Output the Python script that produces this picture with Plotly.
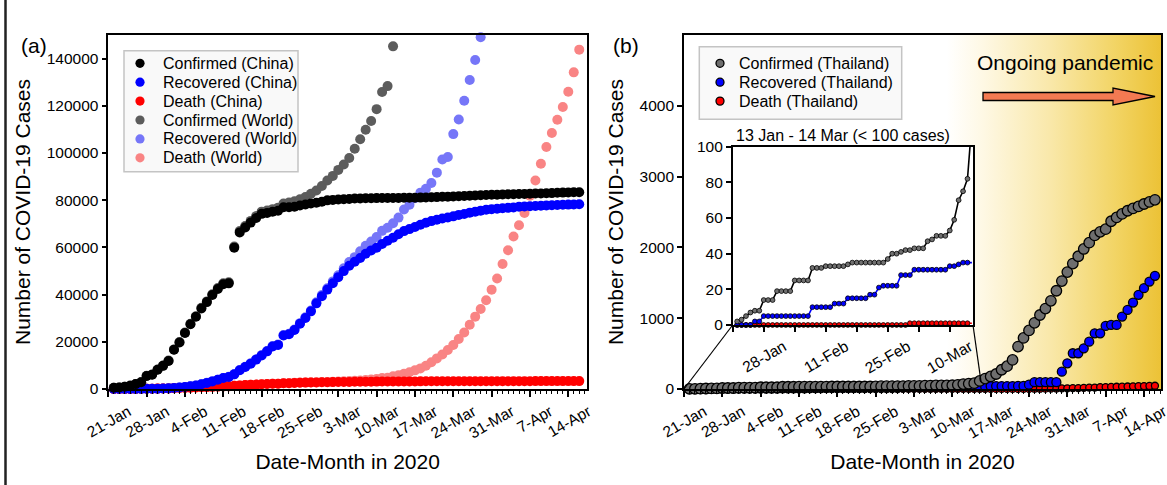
import plotly.graph_objects as go
import pandas as pd

W, H = 1167, 485
FONT = "Liberation Sans, Arial, sans-serif"

# ---------------- data ----------------
dates = [d.strftime("%Y-%m-%d") for d in pd.date_range("2020-01-22", "2020-04-16")]

china_confirmed = [
    548, 643, 920, 1406, 2075, 2877, 5509, 6087, 8141, 9802,
    11891, 16630, 19716, 23707, 27440, 30587, 34110, 36814, 39829, 42354,
    44386, 44759, 59895, 66358, 68413, 70513, 72434, 74211, 74619, 75077,
    75550, 77001, 77022, 77241, 77754, 78166, 78600, 78928, 79356,
    79932, 80136, 80261, 80386, 80537, 80690, 80770, 80823, 80860, 80887,
    80921, 80932, 80945, 80977, 81003, 81033, 81058, 81102, 81156, 81250,
    81305, 81435, 81498, 81591, 81661, 81782, 81897, 81999, 82122, 82198, 82279,
    82361, 82432, 82511, 82543, 82602, 82665, 82718, 82809, 82883, 82941,
    83014, 83134, 83213, 83306, 83356, 83403]
china_recovered = [
    28, 30, 36, 39, 49, 58, 101, 120, 135, 214,
    275, 463, 614, 843, 1115, 1476, 1998, 2595, 3218, 3916,
    4635, 5079, 6213, 7973, 9294, 10748, 12455, 14199, 15952, 18002,
    18693, 22687, 23170, 24990, 27650, 30053, 32898, 36291, 39279,
    42118, 44810, 47404, 49955, 52240, 53888, 55478, 57320, 58735, 59882,
    61475, 62793, 64111, 65541, 66911, 67749, 68679, 69601, 70420, 71150,
    71740, 72244, 72703, 73159, 73773, 74181, 74720, 75100, 75582, 75923, 76206,
    76405, 76565, 76760, 76946, 77207, 77310, 77410, 77567, 77679, 77791,
    77877, 77956, 78039, 78129, 78200, 78311]
china_death = [
    17, 18, 26, 42, 56, 82, 131, 133, 171, 213,
    259, 361, 425, 490, 562, 632, 717, 804, 904, 1011,
    1112, 1117, 1369, 1521, 1663, 1766, 1864, 2003, 2116, 2238,
    2238, 2443, 2445, 2595, 2665, 2717, 2746, 2790, 2837,
    2872, 2914, 2947, 2983, 3015, 3044, 3072, 3100, 3123, 3139,
    3161, 3172, 3180, 3193, 3203, 3217, 3230, 3241, 3249, 3253,
    3259, 3274, 3274, 3281, 3285, 3291, 3296, 3299, 3304, 3308, 3309,
    3316, 3322, 3326, 3330, 3333, 3335, 3335, 3337, 3339, 3340,
    3343, 3343, 3345, 3345, 3346, 3346]
world_confirmed = [
    555, 654, 941, 1434, 2118, 2927, 5578, 6166, 8234, 9927,
    12038, 16787, 19887, 23898, 27643, 30802, 34395, 37129, 40159, 42768,
    44810, 45228, 60381, 66908, 69051, 71235, 73269, 75153, 75652, 76213,
    76843, 78602, 78982, 79546, 80399, 81376, 82723, 84116, 86000,
    88371, 90306, 92840, 95120, 97882, 101800, 105836, 109835, 113582, 118582,
    125865, 128343, 145193]
world_recovered = [
    28, 30, 36, 39, 52, 61, 107, 126, 143, 222,
    284, 472, 623, 852, 1124, 1487, 2011, 2616, 3244, 3946,
    4683, 5150, 6295, 8058, 9395, 10865, 12583, 14352, 16121, 18177,
    18890, 22886, 23394, 25227, 27905, 30384, 33277, 36711, 39782,
    42716, 45602, 48228, 51170, 53796, 55865, 58358, 60694, 62494, 64404,
    67003, 68324, 70251, 72624, 76034, 78088, 80840, 83207, 84854, 87256,
    91676, 97243, 98334, 108000, 114218, 122150, 130915, 139415, 149082]
world_death = [
    17, 18, 26, 42, 56, 82, 131, 133, 171, 213,
    259, 362, 426, 492, 564, 634, 719, 806, 906, 1013,
    1113, 1118, 1371, 1523, 1666, 1770, 1868, 2007, 2122, 2247,
    2251, 2458, 2469, 2629, 2708, 2770, 2814, 2872, 2941,
    2996, 3085, 3160, 3254, 3348, 3460, 3558, 3802, 3988, 4262,
    4615, 4720, 5404, 5819, 6440, 7126, 7905, 8733, 9867, 11299,
    12973, 14651, 16505, 18625, 21181, 23970, 27198, 30652, 33925, 37582, 42107,
    46809, 52983, 58787, 64606, 69374, 74565, 81865, 88338, 95455, 102525,
    108503, 114091, 119481, 125983, 134176, 143800]

thai_confirmed = [
    2, 3, 5, 7, 8, 8, 14, 14, 14, 19,
    19, 19, 19, 25, 25, 25, 25, 32, 32, 32,
    33, 33, 33, 33, 33, 34, 35, 35, 35, 35,
    35, 35, 35, 35, 37, 40, 40, 41, 42,
    42, 43, 43, 43, 47, 48, 50, 50, 50, 53,
    59, 70, 75, 82, 114, 147, 177, 212, 272, 322,
    411, 599, 721, 827, 934, 1045, 1136, 1245, 1388, 1524, 1651,
    1771, 1875, 1978, 2067, 2169, 2220, 2258, 2369, 2423, 2473,
    2518, 2551, 2579, 2613, 2643, 2672]
thai_recovered = [
    0, 0, 0, 0, 2, 2, 5, 5, 5, 5,
    5, 5, 5, 5, 5, 5, 5, 10, 10, 10,
    10, 10, 12, 12, 12, 15, 15, 15, 15, 15,
    17, 17, 21, 22, 22, 22, 22, 28, 28,
    28, 31, 31, 31, 31, 31, 31, 31, 31, 33,
    33, 34, 35, 35, 35, 35, 41, 42, 42, 42,
    42, 44, 44, 61, 97, 97, 97, 97, 97, 245, 363,
    505, 505, 575, 669, 787, 787, 891, 905, 905, 1023,
    1117, 1221, 1330, 1424, 1518, 1598]
thai_death = [
    0, 0, 0, 0, 0, 0, 0, 0, 0, 0,
    0, 0, 0, 0, 0, 0, 0, 0, 0, 0,
    0, 0, 0, 0, 0, 0, 0, 0, 0, 0,
    0, 0, 0, 0, 0, 0, 0, 0, 0,
    1, 1, 1, 1, 1, 1, 1, 1, 1, 1,
    1, 1, 1, 1, 1, 1, 1, 1, 1, 1,
    1, 1, 1, 1, 4, 4, 5, 6, 7, 9, 10,
    12, 12, 15, 19, 20, 26, 27, 30, 32, 33,
    35, 38, 40, 41, 43, 46]

tick_dates = ["2020-01-21", "2020-01-28", "2020-02-04", "2020-02-11", "2020-02-18",
              "2020-02-25", "2020-03-03", "2020-03-10", "2020-03-17", "2020-03-24",
              "2020-03-31", "2020-04-07", "2020-04-14"]
tick_labels = ["21-Jan", "28-Jan", "4-Feb", "11-Feb", "18-Feb", "25-Feb", "3-Mar",
               "10-Mar", "17-Mar", "24-Mar", "31-Mar", "7-Apr", "14-Apr"]
inset_tick_dates = ["2020-01-28", "2020-02-11", "2020-02-25", "2020-03-10"]
inset_tick_labels = ["28-Jan", "11-Feb", "25-Feb", "10-Mar"]
ya_ticks = [0, 20000, 40000, 60000, 80000, 100000, 120000, 140000]
yb_ticks = [0, 1000, 2000, 3000, 4000]
yi_ticks = [0, 20, 40, 60, 80, 100]

# ---------------- geometry (pixels) ----------------
A_L, A_R = 108.3, 587.0
B_L, B_R = 684.0, 1161.0
TOP, BOT = 35.0, 389.0
I_L, I_R, I_T, I_B = 732.7, 973.0, 146.7, 325.0
PX_PER_DAY = 5.476
PX_PER_DAY_INSET = 4.43

X0 = pd.Timestamp("2020-01-21")
A_END = X0 + pd.Timedelta(days=(A_R - A_L) / PX_PER_DAY)
B_END = X0 + pd.Timedelta(days=(B_R - B_L) / PX_PER_DAY)
I_END = X0 + pd.Timedelta(days=(I_R - I_L) / PX_PER_DAY_INSET)
GRAD_START = pd.Timestamp("2020-03-09")


def px_x(p):
    return p / W


def px_y(p):
    return 1 - p / H


def date_to_paper(d, dom, rng):
    f = (pd.Timestamp(d) - rng[0]) / (rng[1] - rng[0])
    return dom[0] + f * (dom[1] - dom[0])


xa_dom = [px_x(A_L), px_x(A_R)]
xb_dom = [px_x(B_L), px_x(B_R)]
y_dom = [px_y(BOT), px_y(TOP)]
xi_dom = [px_x(I_L), px_x(I_R)]
yi_dom = [px_y(I_B), px_y(I_T)]

fig = go.Figure()

# ---------- panel (a) ----------
n_wc, n_wr = len(world_confirmed), len(world_recovered)
panel_a = [  # drawn back to front
    (dates[:n_wc], world_confirmed, "#5c5c5c", "Confirmed (World)"),
    (dates[:n_wr], world_recovered, "#7676f8", "Recovered (World)"),
    (dates, world_death, "#f98484", "Death (World)"),
    (dates, china_death, "#ff0000", "Death (China)"),
    (dates, china_recovered, "#0000ff", "Recovered (China)"),
    (dates, china_confirmed, "#000000", "Confirmed (China)"),
]
for xs, ys, col, name in panel_a:
    fig.add_trace(go.Scatter(
        x=xs, y=ys, mode="markers", name=name, showlegend=False,
        marker=dict(size=10, color=col, line=dict(width=0)),
        cliponaxis=False, xaxis="x", yaxis="y", hoverinfo="skip"))
legend_a_order = ["Confirmed (China)", "Recovered (China)", "Death (China)",
                  "Confirmed (World)", "Recovered (World)", "Death (World)"]
legend_a = [(n, c, None) for n in legend_a_order for (_, _, c, nn) in panel_a if nn == n]

# ---------- panel (b) background gradient ----------
fig.add_trace(go.Scatter(
    x=[GRAD_START, B_END, B_END, GRAD_START, GRAD_START],
    y=[0, 0, 5000, 5000, 0], mode="none", fill="toself",
    fillgradient=dict(type="horizontal", colorscale=[
        [0.0, "#FFFFFF"], [0.17, "#FEF8E4"], [0.48, "#F9E8AA"],
        [0.79, "#F2D464"], [1.0, "#ECC236"]]),
    showlegend=False, hoverinfo="skip", xaxis="x2", yaxis="y2"))

panel_b = [  # drawn back to front
    (thai_death, "#ff0000", "Death (Thailand)", 7),
    (thai_recovered, "#0000ff", "Recovered (Thailand)", 9),
    (thai_confirmed, "#6e6e6e", "Confirmed (Thailand)", 10.5),
]
for ys, col, name, sz in panel_b:
    fig.add_trace(go.Scatter(
        x=dates, y=ys, mode="markers", name=name, showlegend=False,
        marker=dict(size=sz, color=col, line=dict(width=1.3, color="#000000")),
        cliponaxis=False, xaxis="x2", yaxis="y2", hoverinfo="skip"))
legend_b = [(name, col, "#000000") for (_, col, name, _) in panel_b[::-1]]

# ---------- inset ----------
n_line = dates.index("2020-03-15") + 1
n_mark = dates.index("2020-03-14") + 1
inset = [
    (thai_death, "#ff0000", "#ff0000"),
    (thai_recovered, "#0000ff", "#0000ff"),
    (thai_confirmed, "#707070", "#000000"),
]
for ys, mcol, lcol in inset:
    fig.add_trace(go.Scatter(
        x=dates[:n_line], y=ys[:n_line], mode="lines", line=dict(color=lcol, width=1.6),
        showlegend=False, xaxis="x3", yaxis="y3", hoverinfo="skip"))
    fig.add_trace(go.Scatter(
        x=dates[:n_mark], y=ys[:n_mark], mode="markers",
        marker=dict(size=4.8, color=mcol, line=dict(width=0.8, color="#000000")),
        cliponaxis=False, showlegend=False, xaxis="x3", yaxis="y3", hoverinfo="skip"))

tickfont = dict(family=FONT, size=15.5, color="#000000")
titlefont = dict(family=FONT, size=21, color="#000000")


def xaxis_common(dom, rng, anchor):
    return dict(
        domain=dom, range=rng, type="date", anchor=anchor,
        tickmode="array", tickvals=tick_dates, ticktext=tick_labels,
        tickangle=-30, ticklabelshift=20, ticklabeloverflow="allow", tickfont=tickfont,
        ticks="outside", ticklen=6, tickwidth=1.5, tickcolor="#000000",
        minor=dict(ticks="outside", dtick=86400000, tick0="2020-01-21",
                   ticklen=3, tickwidth=1, tickcolor="#000000"),
        showline=True, linecolor="#000000", linewidth=1.6, mirror=True,
        showgrid=False, zeroline=False,
        title=dict(text="Date-Month in 2020", font=titlefont, standoff=14))


def yaxis_common(dom, rng, ticks, anchor):
    return dict(
        domain=dom, range=rng, anchor=anchor, tickmode="array", tickvals=ticks,
        tickformat="d", tickfont=tickfont, ticks="outside", ticklen=5, tickwidth=1.5,
        tickcolor="#000000", showline=True, linecolor="#000000", linewidth=1.6,
        mirror=True, showgrid=False, zeroline=False,
        title=dict(text="Number of COVID-19 Cases", font=titlefont, standoff=10))


layout = dict(
    width=W, height=H, margin=dict(l=0, r=0, t=0, b=0),
    paper_bgcolor="#ffffff", plot_bgcolor="#ffffff", template="none",
    font=dict(family=FONT, color="#000000"), showlegend=False,
    xaxis=xaxis_common(xa_dom, [X0, A_END], "y"),
    yaxis=yaxis_common(y_dom, [0, 150000], ya_ticks, "x"),
    xaxis2=xaxis_common(xb_dom, [X0, B_END], "y2"),
    yaxis2=yaxis_common(y_dom, [0, 5000], yb_ticks, "x2"),
    xaxis3=dict(
        domain=xi_dom, range=[X0, I_END], type="date", anchor="y3",
        tickmode="array", tickvals=inset_tick_dates, ticktext=inset_tick_labels,
        tickangle=-30, ticklabelshift=20, tickfont=tickfont,
        ticks="outside", ticklen=5, tickwidth=1.5, tickcolor="#000000",
        minor=dict(ticks="outside", dtick=7 * 86400000, tick0="2020-01-21",
                   ticklen=5, tickwidth=1.5, tickcolor="#000000"),
        showline=True, linecolor="#000000", linewidth=1.6, mirror=True,
        showgrid=False, zeroline=False),
    yaxis3=dict(
        domain=yi_dom, range=[0, 100], anchor="x3", tickmode="array", tickvals=yi_ticks,
        tickfont=tickfont, ticks="outside", ticklen=5, tickwidth=1.5,
        tickcolor="#000000", showline=True, linecolor="#000000", linewidth=1.6,
        mirror=True, showgrid=False, zeroline=False),
)
fig.update_layout(**layout)


# ---------- hand-drawn legend boxes (compact row spacing as in the original) ----------
def draw_legend(entries, box, first_row, row_gap, mark_x, mark_r, text_x, size):
    x0, y0, x1, y1 = box
    fig.add_shape(type="rect", xref="paper", yref="paper",
                  x0=px_x(x0), x1=px_x(x1), y0=px_y(y1), y1=px_y(y0),
                  fillcolor="rgba(248,248,248,0.85)", line=dict(color="#c4c4c4", width=1.5),
                  layer="above")
    for i, (name, col, edge) in enumerate(entries):
        cy = first_row + i * row_gap
        fig.add_shape(type="circle", xref="paper", yref="paper",
                      x0=px_x(mark_x - mark_r), x1=px_x(mark_x + mark_r),
                      y0=px_y(cy + mark_r), y1=px_y(cy - mark_r), fillcolor=col,
                      line=dict(color=edge if edge else col, width=1.3 if edge else 0),
                      layer="above")
        fig.add_annotation(text=name, x=px_x(text_x), y=px_y(cy), xref="paper", yref="paper",
                           showarrow=False, xanchor="left", yanchor="middle",
                           font=dict(family=FONT, size=size, color="#000000"))


draw_legend(legend_a, (124, 50.7, 298, 171.7), 63.3, 18.9, 140, 4.6, 161, 16)
draw_legend(legend_b, (699.3, 46.7, 901.7, 119.3), 63.3, 18.9, 720, 4.0, 737, 16)

# connector lines between inset and main panel (b)
xb_rng = [X0, B_END]
for (ix, iy), (md, mv) in [((xi_dom[0], yi_dom[0]), (X0, 0)),
                           ((xi_dom[1], yi_dom[0]), (I_END, 100))]:
    mx = date_to_paper(md, xb_dom, xb_rng)
    my = y_dom[0] + mv / 5000 * (y_dom[1] - y_dom[0])
    fig.add_shape(type="line", xref="paper", yref="paper", x0=ix, y0=iy, x1=mx, y1=my,
                  line=dict(color="#000000", width=1.2), layer="above")

# arrow "Ongoing pandemic"
arrow_px = [(983, 92.5), (1113, 92.5), (1113, 88), (1155, 96.5), (1113, 105),
            (1113, 100.5), (983, 100.5)]
path = "M " + " L ".join(f"{px_x(a):.5f},{px_y(b):.5f}" for a, b in arrow_px) + " Z"
fig.add_shape(type="path", path=path, xref="paper", yref="paper",
              fillcolor="#F37A52", line=dict(color="#000000", width=1.3), layer="above")

# left frame line
fig.add_shape(type="line", xref="paper", yref="paper", x0=px_x(5.5), x1=px_x(5.5),
              y0=0, y1=1, line=dict(color="#222222", width=2.5))

ann = [
    dict(text="(a)", x=px_x(34), y=px_y(45), size=21),
    dict(text="(b)", x=px_x(626), y=px_y(45), size=21),
    dict(text="Ongoing pandemic", x=px_x(1065), y=px_y(63), size=21),
    dict(text="13 Jan - 14 Mar (< 100 cases)", x=px_x(843), y=px_y(135), size=16),
]
for a in ann:
    fig.add_annotation(text=a["text"], x=a["x"], y=a["y"], xref="paper", yref="paper",
                       showarrow=False, xanchor="center", yanchor="middle",
                       font=dict(family=FONT, size=a["size"], color="#000000"))

fig.write_html("out.html")
